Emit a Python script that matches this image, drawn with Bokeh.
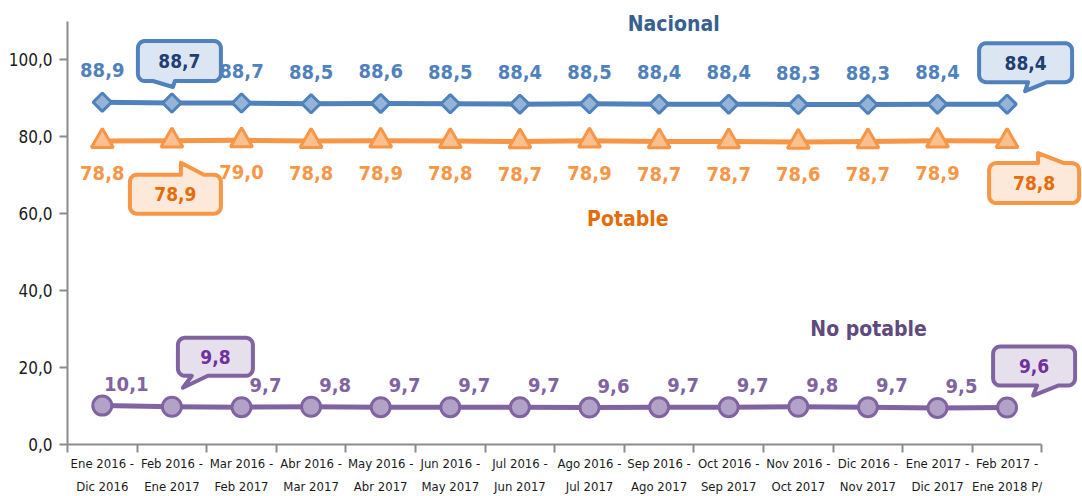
import numpy as np
from bokeh.plotting import figure
from bokeh.models import Range1d, FixedTicker, Label
from bokeh.core.properties import value
from bokeh.embed import file_html
from bokeh.resources import INLINE

# ---------------- data ----------------
periods = ["Ene 2016 -\nDic 2016", "Feb 2016 -\nEne 2017", "Mar 2016 -\nFeb 2017",
           "Abr 2016 -\nMar 2017", "May 2016 -\nAbr 2017", "Jun 2016 -\nMay 2017",
           "Jul 2016 -\nJun 2017", "Ago 2016 -\nJul 2017", "Sep 2016 -\nAgo 2017",
           "Oct 2016 -\nSep 2017", "Nov 2016 -\nOct 2017", "Dic 2016 -\nNov 2017",
           "Ene 2017 -\nDic 2017", "Feb 2017 -\nEne 2018 P/"]
nacional = [88.9, 88.7, 88.7, 88.5, 88.6, 88.5, 88.4, 88.5, 88.4, 88.4, 88.3, 88.3, 88.4, 88.4]
potable = [78.8, 78.9, 79.0, 78.8, 78.9, 78.8, 78.7, 78.9, 78.7, 78.7, 78.6, 78.7, 78.9, 78.8]
no_potable = [10.1, 9.8, 9.7, 9.8, 9.7, 9.7, 9.7, 9.6, 9.7, 9.7, 9.8, 9.7, 9.5, 9.6]
y_ticks = [0, 20, 40, 60, 80, 100]
series_names = ["Nacional", "Potable", "No potable"]
callout_idx = [1, 13]

# ---------------- layout ----------------
FONT = "DejaVu Sans Condensed"
W, H = 1082, 496
BL, BB = 67, 52
FRAME_W, FRAME_H = W - BL, H - BB
PX_X = 69.6          # px per category
PX_Y = 3.85          # px per unit
XEND = FRAME_W / PX_X
YEND = FRAME_H / PX_Y

xs = [i + 0.5 for i in range(len(periods))]


def fmt(v):
    return f"{v:.1f}".replace(".", ",")


p = figure(width=W, height=H, x_range=Range1d(0, XEND), y_range=Range1d(0, YEND),
           output_backend="svg", toolbar_location=None,
           min_border_left=BL, min_border_right=0, min_border_top=0, min_border_bottom=BB)
p.outline_line_color = None
p.xgrid.visible = False
p.ygrid.visible = False
p.background_fill_color = "white"

AX = "#8c8c8c"
# x axis
p.xaxis.ticker = FixedTicker(ticks=xs, minor_ticks=list(range(len(periods) + 1)))
p.xaxis.major_label_overrides = {x: lab for x, lab in zip(xs, periods)}
p.xaxis.bounds = (0, len(periods))
p.xaxis.axis_line_color = AX
p.xaxis.axis_line_width = 2
p.xaxis.major_tick_in = 0
p.xaxis.major_tick_out = 0
p.xaxis.minor_tick_in = 0
p.xaxis.minor_tick_out = 8
p.xaxis.minor_tick_line_color = AX
p.xaxis.minor_tick_line_width = 2
p.xaxis.major_label_standoff = 3
p.xaxis.major_label_text_font = FONT
p.xaxis.major_label_text_font_size = "13px"
p.xaxis.major_label_text_line_height = 1.55
p.xaxis.major_label_text_color = "#1a1a1a"

# y axis
p.yaxis.ticker = FixedTicker(ticks=y_ticks)
p.yaxis.major_label_overrides = {t: fmt(t) for t in y_ticks}
p.yaxis.bounds = (0, 110)
p.yaxis.axis_line_color = AX
p.yaxis.axis_line_width = 2
p.yaxis.major_tick_in = 0
p.yaxis.major_tick_out = 8
p.yaxis.major_tick_line_color = AX
p.yaxis.major_tick_line_width = 2
p.yaxis.minor_tick_line_color = None
p.yaxis.major_label_standoff = 7
p.yaxis.major_label_text_font = FONT
p.yaxis.major_label_text_font_size = "17px"
p.yaxis.major_label_text_color = "#1a1a1a"

styles = {
    "Nacional": dict(line="#4F81BD", fill="#95B3D7", lab="#4F81BD", title="#376092",
                     ctext="#1F3F73", cfill="#DCE6F2", marker="square", size=13, angle=np.pi / 4,
                     dx=0, dy=-32),
    "Potable": dict(line="#F79646", fill="#FAC090", lab="#F79646", title="#E46C0A",
                    ctext="#E46C0A", cfill="#FDE9D9", marker="triangle", size=22, angle=0,
                    dx=0, dy=32),
    "No potable": dict(line="#8064A2", fill="#B3A2C7", lab="#8064A2", title="#604A7B",
                       ctext="#7030A0", cfill="#E6E0EC", marker="circle", size=19, angle=0,
                       dx=24, dy=-22),
}

# callout geometry in pixel offsets from the anchor point:
# (x0, x1, y0, y1, edge, base_a, base_b, tip)
callouts = {
    "Nacional": [(-34, 49, -62, -22, "bottom", -19, 3, (1, -16)),
                 (-28, 65, -61, -22, "bottom", 21, 40, (18, -13))],
    "Potable": [(-42, 49, 34, 73, "top", 9, 32, (9, 22)),
                (-18, 72, 22, 62, "top", 31, 57, (31, 12))],
    "No potable": [(6, 81, -69, -31, "bottom", 20, 36, (11, -19)),
                   (-14, 68, -61, -22, "bottom", 30, 51, (26, -12))],
}


def callout_pts(x0, x1, y0, y1, edge, ba, bb, tip, r=7):
    pts = []

    def arc(cx, cy, a0, a1):
        for t in np.linspace(np.radians(a0), np.radians(a1), 6):
            pts.append((cx + r * np.cos(t), cy + r * np.sin(t)))

    arc(x0 + r, y0 + r, 180, 270)
    if edge == "top":
        pts.extend([(ba, y0), tip, (bb, y0)])
    arc(x1 - r, y0 + r, 270, 360)
    arc(x1 - r, y1 - r, 0, 90)
    if edge == "bottom":
        pts.extend([(bb, y1), tip, (ba, y1)])
    arc(x0 + r, y1 - r, 90, 180)
    return pts


titles_pos = {"Nacional": (8.71, 109.1), "Potable": (8.05, 58.7), "No potable": (11.51, 30.1)}

for name, vals in zip(series_names, [nacional, potable, no_potable]):
    s = styles[name]
    p.line(xs, vals, line_color=s["line"], line_width=5, line_join="round")
    p.scatter(xs, vals, marker=s["marker"], size=s["size"], angle=s["angle"],
              fill_color=s["fill"], line_color=s["line"], line_width=3)
    lx = [x for i, x in enumerate(xs) if i not in callout_idx]
    lv = [v for i, v in enumerate(vals) if i not in callout_idx]
    p.text(lx, lv, text=[fmt(v) for v in lv], x_offset=s["dx"], y_offset=s["dy"],
           text_font=value(FONT), text_font_style="bold", text_font_size="20px",
           text_color=s["lab"], text_align="center", text_baseline="middle")
    for idx, spec in zip(callout_idx, callouts[name]):
        x0, x1, y0, y1, edge, ba, bb, tip = spec
        pts = callout_pts(x0, x1, y0, y1, edge, ba, bb, tip)
        px = [xs[idx] + dx / PX_X for dx, dy in pts]
        py = [vals[idx] - dy / PX_Y for dx, dy in pts]
        p.patch(px, py, fill_color=s["cfill"], line_color=s["line"], line_width=4,
                line_join="round")
        p.text([xs[idx]], [vals[idx]], text=[fmt(vals[idx])],
               x_offset=(x0 + x1) / 2, y_offset=(y0 + y1) / 2,
               text_font=value(FONT), text_font_style="bold", text_font_size="19px",
               text_color=s["ctext"], text_align="center", text_baseline="middle")
    tx, ty = titles_pos[name]
    p.add_layout(Label(x=tx, y=ty, text=name, text_font=FONT, text_font_style="bold",
                       text_font_size="21px", text_color=s["title"],
                       text_align="center", text_baseline="middle"))

open("out.html", "w").write(file_html(p, INLINE))
